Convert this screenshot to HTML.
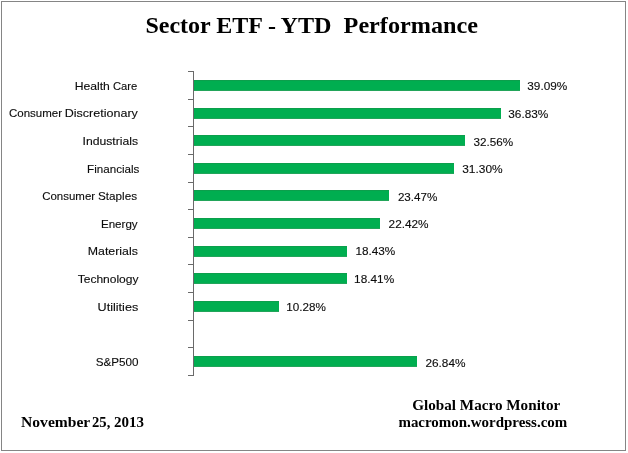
<!DOCTYPE html>
<html lang="en">
<head>
<meta charset="utf-8">
<title>Sector ETF - YTD Performance</title>
<style>
html,body{margin:0;padding:0;background:#fff;}
body{width:628px;height:453px;overflow:hidden;}
svg{display:block;}
.t{font-family:"Liberation Serif",serif;font-weight:bold;fill:#000;}
.f{font-size:15px;}
.h{font-size:24px;}
.c{font-family:"Liberation Sans",sans-serif;font-size:11.6px;fill:#0c0c0c;stroke:#0c0c0c;stroke-width:0.12px;}
.v{font-family:"Liberation Sans",sans-serif;font-size:11.0px;fill:#0c0c0c;stroke:#0c0c0c;stroke-width:0.12px;}
</style>
</head>
<body>
<svg width="628" height="453" viewBox="0 0 628 453">
<rect x="0" y="0" width="628" height="453" fill="#ffffff"/>
<rect x="1.5" y="1.5" width="624" height="449" fill="none" stroke="#858585" stroke-width="1"/>
<g fill="#6a6a6a" shape-rendering="crispEdges">
<rect x="193" y="71" width="1" height="305"/>
<rect x="188" y="71" width="5" height="1"/>
<rect x="188" y="99" width="5" height="1"/>
<rect x="188" y="126" width="5" height="1"/>
<rect x="188" y="154" width="5" height="1"/>
<rect x="188" y="182" width="5" height="1"/>
<rect x="188" y="209" width="5" height="1"/>
<rect x="188" y="237" width="5" height="1"/>
<rect x="188" y="264" width="5" height="1"/>
<rect x="188" y="292" width="5" height="1"/>
<rect x="188" y="320" width="5" height="1"/>
<rect x="188" y="347" width="5" height="1"/>
<rect x="188" y="375" width="5" height="1"/>
</g>
<g fill="#00ae50" shape-rendering="crispEdges">
<rect x="194" y="80" width="326" height="11"/>
<rect x="194" y="80" width="326" height="1" fill="#0c9f4c"/>
<rect x="194" y="90" width="326" height="1" fill="#22a55a"/>
<rect x="194" y="108" width="307" height="11"/>
<rect x="194" y="108" width="307" height="1" fill="#0c9f4c"/>
<rect x="194" y="118" width="307" height="1" fill="#22a55a"/>
<rect x="194" y="135" width="271" height="11"/>
<rect x="194" y="135" width="271" height="1" fill="#0c9f4c"/>
<rect x="194" y="145" width="271" height="1" fill="#22a55a"/>
<rect x="194" y="163" width="260" height="11"/>
<rect x="194" y="163" width="260" height="1" fill="#0c9f4c"/>
<rect x="194" y="173" width="260" height="1" fill="#22a55a"/>
<rect x="194" y="190" width="195" height="11"/>
<rect x="194" y="190" width="195" height="1" fill="#0c9f4c"/>
<rect x="194" y="200" width="195" height="1" fill="#22a55a"/>
<rect x="194" y="218" width="186" height="11"/>
<rect x="194" y="218" width="186" height="1" fill="#0c9f4c"/>
<rect x="194" y="228" width="186" height="1" fill="#22a55a"/>
<rect x="194" y="246" width="153" height="11"/>
<rect x="194" y="246" width="153" height="1" fill="#0c9f4c"/>
<rect x="194" y="256" width="153" height="1" fill="#22a55a"/>
<rect x="194" y="273" width="153" height="11"/>
<rect x="194" y="273" width="153" height="1" fill="#0c9f4c"/>
<rect x="194" y="283" width="153" height="1" fill="#22a55a"/>
<rect x="194" y="301" width="85" height="11"/>
<rect x="194" y="301" width="85" height="1" fill="#0c9f4c"/>
<rect x="194" y="311" width="85" height="1" fill="#22a55a"/>
<rect x="194" y="356" width="223" height="11"/>
<rect x="194" y="356" width="223" height="1" fill="#0c9f4c"/>
<rect x="194" y="366" width="223" height="1" fill="#22a55a"/>
</g>
<text class="c" y="90.3" xml:space="preserve"><tspan x="74.65" textLength="35.25" lengthAdjust="spacingAndGlyphs">Health</tspan> <tspan x="113.02" textLength="24.33" lengthAdjust="spacingAndGlyphs">Care</tspan></text>
<text class="v" y="90.3" xml:space="preserve"><tspan x="527.30" textLength="39.92" lengthAdjust="spacingAndGlyphs">39.09%</tspan></text>
<text class="c" y="117.4" xml:space="preserve"><tspan x="9.00" textLength="53.03" lengthAdjust="spacingAndGlyphs">Consumer</tspan> <tspan x="64.75" textLength="73.08" lengthAdjust="spacingAndGlyphs">Discretionary</tspan></text>
<text class="v" y="117.9" xml:space="preserve"><tspan x="508.28" textLength="40.10" lengthAdjust="spacingAndGlyphs">36.83%</tspan></text>
<text class="c" y="145.3" xml:space="preserve"><tspan x="82.52" textLength="55.52" lengthAdjust="spacingAndGlyphs">Industrials</tspan></text>
<text class="v" y="146.3" xml:space="preserve"><tspan x="473.45" textLength="39.60" lengthAdjust="spacingAndGlyphs">32.56%</tspan></text>
<text class="c" y="172.5" xml:space="preserve"><tspan x="87.12" textLength="52.25" lengthAdjust="spacingAndGlyphs">Financials</tspan></text>
<text class="v" y="172.8" xml:space="preserve"><tspan x="462.20" textLength="40.42" lengthAdjust="spacingAndGlyphs">31.30%</tspan></text>
<text class="c" y="200.3" xml:space="preserve"><tspan x="42.18" textLength="52.93" lengthAdjust="spacingAndGlyphs">Consumer</tspan> <tspan x="98.00" textLength="39.05" lengthAdjust="spacingAndGlyphs">Staples</tspan></text>
<text class="v" y="201.3" xml:space="preserve"><tspan x="397.90" textLength="39.47" lengthAdjust="spacingAndGlyphs">23.47%</tspan></text>
<text class="c" y="228.2" xml:space="preserve"><tspan x="100.95" textLength="36.72" lengthAdjust="spacingAndGlyphs">Energy</tspan></text>
<text class="v" y="228.2" xml:space="preserve"><tspan x="388.60" textLength="39.93" lengthAdjust="spacingAndGlyphs">22.42%</tspan></text>
<text class="c" y="255.2" xml:space="preserve"><tspan x="87.80" textLength="50.07" lengthAdjust="spacingAndGlyphs">Materials</tspan></text>
<text class="v" y="255.2" xml:space="preserve"><tspan x="355.42" textLength="39.85" lengthAdjust="spacingAndGlyphs">18.43%</tspan></text>
<text class="c" y="283.2" xml:space="preserve"><tspan x="77.73" textLength="60.77" lengthAdjust="spacingAndGlyphs">Technology</tspan></text>
<text class="v" y="283.4" xml:space="preserve"><tspan x="354.12" textLength="40.10" lengthAdjust="spacingAndGlyphs">18.41%</tspan></text>
<text class="c" y="311.0" xml:space="preserve"><tspan x="97.62" textLength="40.58" lengthAdjust="spacingAndGlyphs">Utilities</tspan></text>
<text class="v" y="310.8" xml:space="preserve"><tspan x="286.38" textLength="39.60" lengthAdjust="spacingAndGlyphs">10.28%</tspan></text>
<text class="c" y="366.3" xml:space="preserve"><tspan x="95.68" textLength="42.85" lengthAdjust="spacingAndGlyphs">S&amp;P500</tspan></text>
<text class="v" y="367.1" xml:space="preserve"><tspan x="425.42" textLength="40.10" lengthAdjust="spacingAndGlyphs">26.84%</tspan></text>
<text class="t h" y="32.5" xml:space="preserve"><tspan x="145.42" textLength="130.60" lengthAdjust="spacingAndGlyphs">Sector ETF <tspan dy="1.1">-</tspan></tspan> <tspan x="280.45" textLength="197.50" lengthAdjust="spacingAndGlyphs"><tspan dy="-1.1">YTD  Performance</tspan></tspan></text>
<text class="t f" y="426.5" xml:space="preserve"><tspan x="21.10" textLength="68.88" lengthAdjust="spacingAndGlyphs">November</tspan> <tspan x="92.02" textLength="18.28" lengthAdjust="spacingAndGlyphs">25,</tspan> <tspan x="114.02" textLength="29.98" lengthAdjust="spacingAndGlyphs">2013</tspan></text>
<text class="t f" y="410.3" xml:space="preserve"><tspan x="412.22" textLength="148.00" lengthAdjust="spacingAndGlyphs">Global Macro Monitor</tspan></text>
<text class="t f" y="427.2" xml:space="preserve"><tspan x="398.45" textLength="168.80" lengthAdjust="spacingAndGlyphs">macromon.wordpress.com</tspan></text>
</svg>
</body>
</html>
